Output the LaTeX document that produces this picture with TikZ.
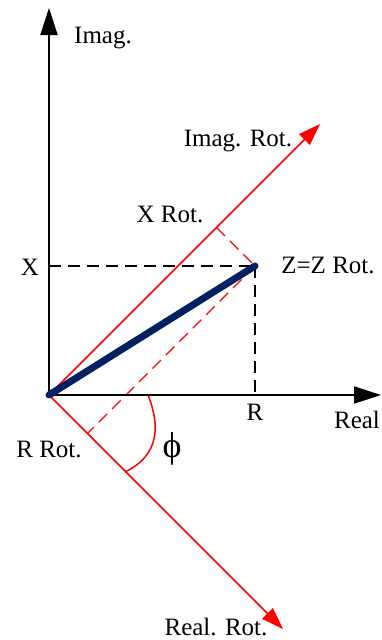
\documentclass[tikz,border=0pt]{standalone}
\usepackage{fontspec}
\setmainfont{Liberation Serif}
\usetikzlibrary{arrows.meta,calc}
\begin{document}
\begin{tikzpicture}[x=1pt,y=-1pt,
  lbl/.style={font=\fontsize{25}{28}\selectfont,inner sep=0pt,anchor=base},
  axis/.style={line width=2pt,-{Triangle[length=27pt,width=17pt]}},
  raxis/.style={red,line width=1.5pt,-{Triangle[length=22pt,width=15pt]}},
  bdash/.style={line width=1.5pt,dash pattern=on 12pt off 7pt},
  rdash/.style={red,line width=1.3pt,dash pattern=on 12pt off 7pt}]
\useasboundingbox (0,0) rectangle (381,640);
\coordinate (O) at (49,395);
\coordinate (Z) at (255,266);
\coordinate (Ytip) at (49,8);
\coordinate (Xtip) at (381,395);
\coordinate (IR) at (320,124);
\coordinate (RR) at (283,629);
\coordinate (FX) at ($(O)!(Z)!(IR)$);
\coordinate (FR) at ($(O)!(Z)!(RR)$);
\coordinate (PhA) at (148,395);
\coordinate (PhB) at (125,472);
% rotated axes
\draw[raxis] (O) -- (IR);
\draw[raxis] (O) -- (RR);
\draw[rdash] (FX) -- (Z);
\draw[rdash] (Z) -- (FR);
\draw[red,line width=1.5pt] (PhA) .. controls (160,425) and (160,455) .. (PhB);
% dashed projections
\draw[bdash] (O |- Z) -- (Z);
\draw[bdash] (Z) -- (Z |- O);
% axes
\draw[axis] (O) -- (Ytip);
\draw[axis] (O) -- (Xtip);
% phasor
\draw[line width=7pt,line cap=round,color={rgb,255:red,0;green,32;blue,96}] (O) -- (Z);
% labels
\node[lbl] (limag) at (103,43) {Imag.};
\node[lbl] (limr) at (238,146) {Imag. Rot.};
\node[lbl] (lxr) at (170,222) {X Rot.};
\node[lbl] (lz) at (328,273) {Z=Z Rot.};
\node[lbl] (lx) at (30,275) {X};
\node[lbl] (lr) at (255,420) {R};
\node[lbl] (lreal) at (357,428) {Real};
\node[lbl] (lrr) at (49,457) {R Rot.};
\node[inner sep=0pt,font=\fontsize{36}{38}\selectfont] (lphi) at (172,449) {\symbol{"03D5}};
\node[lbl] (lrealr) at (216,635) {Real. Rot.};
\end{tikzpicture}
\end{document}
